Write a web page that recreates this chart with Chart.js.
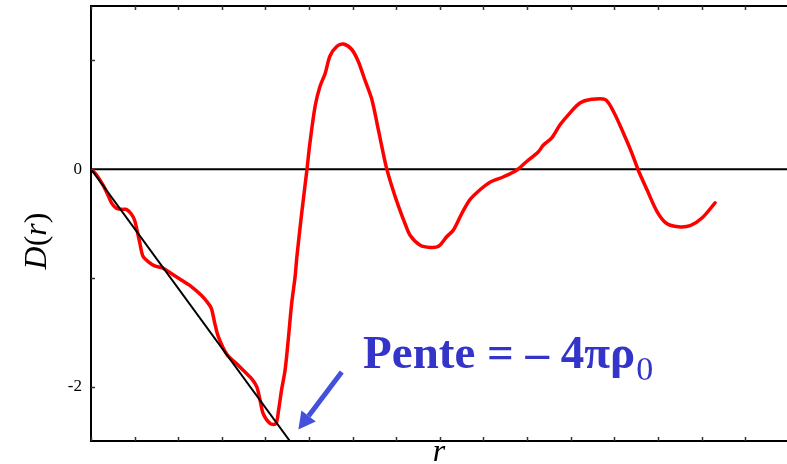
<!DOCTYPE html>
<html>
<head>
<meta charset="utf-8">
<script src="https://cdn.jsdelivr.net/npm/chart.js@4.4.1/dist/chart.umd.min.js"></script>
<style>
  html, body { margin: 0; padding: 0; background: #fff; }
</style>
</head>
<body>
<canvas id="chart" width="787" height="464"></canvas>
<script>
// fonction de distribution D(r)
const rVals = [0, 0.12, 0.28, 0.39, 0.47, 0.58, 0.70, 0.81, 0.92, 1.00,
  1.06, 1.12, 1.19, 1.31, 1.46, 1.65, 1.84, 2.07, 2.30, 2.53,
  2.68, 2.76, 2.84, 2.92, 3.11, 3.34, 3.49, 3.69, 3.80, 3.88,
  3.95, 4.11, 4.24, 4.30, 4.37, 4.45, 4.53, 4.60, 4.68, 4.72,
  4.83, 4.95, 5.02, 5.14, 5.25, 5.37, 5.48, 5.64, 5.79, 5.98,
  6.13, 6.28, 6.44, 6.59, 6.77, 6.90, 7.05, 7.20, 7.32, 7.55,
  7.78, 7.97, 8.16, 8.31, 8.50, 8.69, 8.92, 9.15, 9.46, 9.76,
  9.99, 10.26, 10.37, 10.57, 10.76, 10.99, 11.22, 11.45, 11.79, 11.98,
  12.21, 12.40, 12.55, 12.75, 12.98, 13.20, 13.47, 13.74, 14.01, 14.31];
const dVals = [0, -0.05, -0.15, -0.24, -0.31, -0.36, -0.37, -0.37, -0.41, -0.47,
  -0.57, -0.68, -0.80, -0.85, -0.89, -0.91, -0.96, -1.02, -1.08, -1.16,
  -1.23, -1.28, -1.42, -1.54, -1.70, -1.79, -1.85, -1.93, -2.00, -2.13,
  -2.25, -2.34, -2.34, -2.22, -2.03, -1.85, -1.54, -1.24, -0.99, -0.81,
  -0.41, -0.01, 0.24, 0.58, 0.76, 0.88, 1.04, 1.13, 1.15, 1.10,
  0.99, 0.82, 0.64, 0.36, 0.02, -0.16, -0.34, -0.50, -0.61, -0.70,
  -0.72, -0.71, -0.62, -0.56, -0.41, -0.28, -0.19, -0.12, -0.07, -0.01,
  0.07, 0.16, 0.22, 0.29, 0.41, 0.52, 0.61, 0.64, 0.64, 0.53,
  0.33, 0.15, -0.01, -0.19, -0.39, -0.50, -0.53, -0.52, -0.45, -0.31];

// droite de pente -4πρ0 a l'origine
const penteR = [0, 4.56];
const penteD = [0, -2.5];

// graduations
const xTicks = [0, 1, 2, 3, 4, 5, 6, 7, 8, 9, 10, 11, 12, 13, 14, 15];
const yTicks = [-2, -1, 0, 1];
const yLabels = ["-2", "", "0", ""];

// texte et fleche (coordonnees r, D)
const penteLabel = "Pente = \u2013 4\u03c0\u03c1";
const penteSub = "0";
const labelPos = [6.24, -1.83];
const arrowFrom = [5.75, -1.865];
const arrowTo = [4.755, -2.395];

const serif = "'Liberation Serif', 'Times New Roman', serif";

const toPoints = (xs, ys) => xs.map((x, i) => ({ x: x, y: ys[i] }));

const cadre = {
  id: "cadre",
  beforeDatasetsDraw(chart) {
    const { ctx, chartArea: a, scales: { y } } = chart;
    ctx.save();
    ctx.strokeStyle = "#000";
    ctx.lineWidth = 2;
    // axe horizontal D = 0
    const y0 = y.getPixelForValue(0);
    ctx.beginPath();
    ctx.moveTo(a.left, y0);
    ctx.lineTo(a.right, y0);
    ctx.stroke();
    ctx.restore();
  },
  afterDatasetsDraw(chart) {
    const { ctx, chartArea: a, scales: { x, y } } = chart;
    ctx.save();
    // cadre : gauche, haut, bas
    ctx.strokeStyle = "#000";
    ctx.lineWidth = 2;
    ctx.beginPath();
    ctx.moveTo(a.right + 2, a.top);
    ctx.lineTo(a.left, a.top);
    ctx.lineTo(a.left, a.bottom);
    ctx.lineTo(a.right + 2, a.bottom);
    ctx.stroke();

    // petites graduations vers l'interieur
    ctx.lineWidth = 1.5;
    ctx.strokeStyle = "#333";
    ctx.beginPath();
    xTicks.forEach(v => {
      const px = Math.round(x.getPixelForValue(v)) + 0.5;
      ctx.moveTo(px, a.bottom);
      ctx.lineTo(px, a.bottom - 4);
      ctx.moveTo(px, a.top);
      ctx.lineTo(px, a.top + 4);
    });
    yTicks.forEach(v => {
      const py = Math.round(y.getPixelForValue(v)) + 0.5;
      ctx.moveTo(a.left, py);
      ctx.lineTo(a.left + 4, py);
    });
    ctx.stroke();

    // titres des axes
    ctx.fillStyle = "#000";
    ctx.textBaseline = "alphabetic";
    ctx.font = "italic 32px " + serif;
    ctx.textAlign = "center";
    ctx.fillText("r", 439, 461);

    const parts = [["D", "italic"], ["(", "normal"], ["r", "italic"], [")", "normal"]];
    ctx.translate(46, 241);
    ctx.rotate(-Math.PI / 2);
    ctx.textAlign = "left";
    let w = 0;
    parts.forEach(([t, s]) => { ctx.font = s + " 32px " + serif; w += ctx.measureText(t).width; });
    let cx = -w / 2;
    parts.forEach(([t, s]) => {
      ctx.font = s + " 32px " + serif;
      ctx.fillText(t, cx, 0);
      cx += ctx.measureText(t).width;
    });
    ctx.restore();

    // annotation de la pente
    ctx.save();
    const tx = x.getPixelForValue(labelPos[0]);
    const ty = y.getPixelForValue(labelPos[1]);
    ctx.fillStyle = "#3434c8";
    ctx.textAlign = "left";
    ctx.textBaseline = "alphabetic";
    ctx.font = "bold 47px " + serif;
    ctx.fillText(penteLabel, tx, ty);
    const tw = ctx.measureText(penteLabel).width;
    ctx.font = "34px " + serif;
    ctx.fillText(penteSub, tx + tw + 1, ty + 12);

    // fleche
    const x1 = x.getPixelForValue(arrowFrom[0]), y1 = y.getPixelForValue(arrowFrom[1]);
    const x2 = x.getPixelForValue(arrowTo[0]), y2 = y.getPixelForValue(arrowTo[1]);
    const ang = Math.atan2(y2 - y1, x2 - x1);
    const hl = 17, hw = 9;
    const bx = x2 - hl * Math.cos(ang), by = y2 - hl * Math.sin(ang);
    ctx.strokeStyle = "#4450dc";
    ctx.fillStyle = "#4450dc";
    ctx.lineWidth = 5;
    ctx.beginPath();
    ctx.moveTo(x1, y1);
    ctx.lineTo(bx, by);
    ctx.stroke();
    ctx.beginPath();
    ctx.moveTo(x2, y2);
    ctx.lineTo(bx + hw * Math.sin(ang), by - hw * Math.cos(ang));
    ctx.lineTo(bx - hw * Math.sin(ang), by + hw * Math.cos(ang));
    ctx.closePath();
    ctx.fill();
    ctx.restore();
  }
};

new Chart(document.getElementById("chart"), {
  type: "scatter",
  data: {
    datasets: [
      {
        label: "pente",
        data: toPoints(penteR, penteD),
        showLine: true,
        borderColor: "#000",
        borderWidth: 2,
        pointRadius: 0,
        tension: 0
      },
      {
        label: "D(r)",
        data: toPoints(rVals, dVals),
        showLine: true,
        borderColor: "#ff0000",
        borderWidth: 3.5,
        pointRadius: 0,
        tension: 0.3,
        borderCapStyle: "round",
        borderJoinStyle: "round"
      }
    ]
  },
  options: {
    responsive: false,
    animation: false,
    layout: { padding: { top: 6, bottom: 23, left: 0, right: 0 } },
    plugins: {
      legend: { display: false },
      tooltip: { enabled: false }
    },
    scales: {
      x: {
        type: "linear",
        min: 0,
        max: 15.96,
        display: false
      },
      y: {
        type: "linear",
        min: -2.5,
        max: 1.5,
        afterBuildTicks: s => { s.ticks = yTicks.map(v => ({ value: v })); },
        afterFit: s => {
          s.width = 91;
          s.paddingTop = 0;
          s.paddingBottom = 0;
        },
        grid: { display: false, drawTicks: false },
        border: { display: false },
        ticks: {
          padding: 9,
          color: "#000",
          font: { family: serif, size: 17 },
          callback: (v) => yLabels[yTicks.indexOf(v)]
        }
      }
    }
  },
  plugins: [cadre]
});
</script>
</body>
</html>
